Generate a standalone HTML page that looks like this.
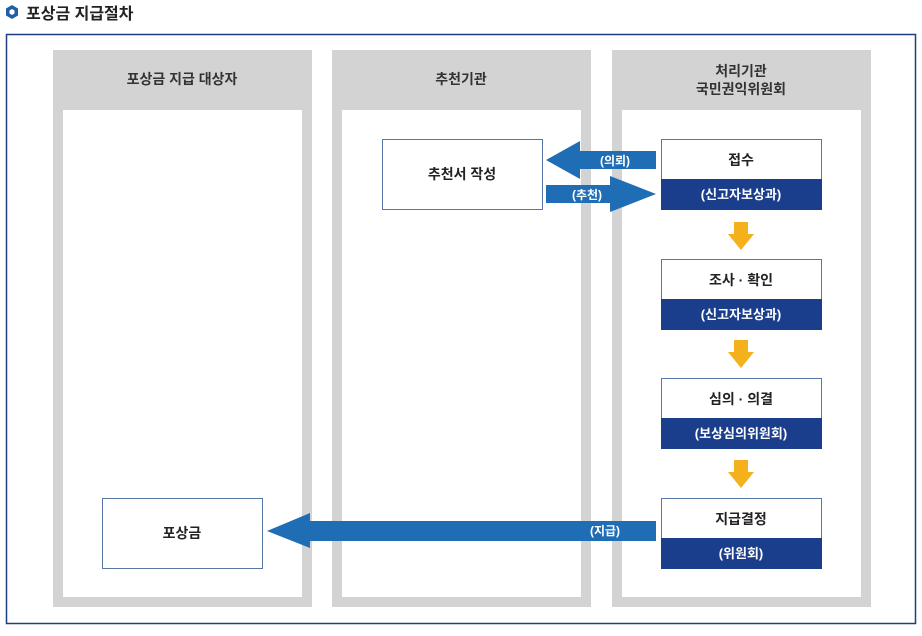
<!DOCTYPE html>
<html><head><meta charset="utf-8"><style>
body{margin:0;background:#fff;width:922px;height:631px;overflow:hidden}
svg text{font-family:"Liberation Sans","Noto Sans CJK KR",sans-serif}
</style></head><body>
<svg width="922" height="631" viewBox="0 0 922 631" xmlns="http://www.w3.org/2000/svg">
<polygon points="12,5 18,8.5 18,15.5 12,19 6,15.5 6,8.5" fill="#1f5fa8"/>
<polygon points="12,9 14.5,10.5 14.5,13.5 12,15 9.5,13.5 9.5,10.5" fill="#fff"/>
<text x="26" y="19" font-size="16" font-weight="bold" fill="#222">포상금 지급절차</text>
<rect x="6.5" y="34.5" width="909" height="589" fill="#fff" stroke="#1e3f7f" stroke-width="1.5"/>
<g fill="#d3d3d3">
<rect x="53" y="50" width="259" height="557"/>
<rect x="332" y="50" width="259" height="557"/>
<rect x="612" y="50" width="259" height="557"/>
</g>
<g fill="#fff">
<rect x="63" y="110" width="239" height="487"/>
<rect x="342" y="110" width="239" height="487"/>
<rect x="622" y="110" width="239" height="487"/>
</g>
<g font-size="14" font-weight="bold" fill="#333" text-anchor="middle">
<text x="182" y="84">포상금 지급 대상자</text>
<text x="461" y="84">추천기관</text>
<text x="741" y="76">처리기관</text>
<text x="741" y="94">국민권익위원회</text>
</g>
<!-- boxes -->
<g stroke="#5577aa" stroke-width="1" fill="#fff">
<rect x="382.5" y="139.5" width="160" height="70"/>
<rect x="102.5" y="498.5" width="160" height="70"/>
<rect x="661.5" y="139.5" width="160" height="70"/>
<rect x="661.5" y="259.5" width="160" height="70"/>
<rect x="661.5" y="378.5" width="160" height="70"/>
<rect x="661.5" y="498.5" width="160" height="70"/>
</g>
<g fill="#1a3d8c">
<rect x="661" y="179" width="161" height="31"/>
<rect x="661" y="299" width="161" height="31"/>
<rect x="661" y="418" width="161" height="31"/>
<rect x="661" y="538" width="161" height="31"/>
</g>
<g font-size="14" font-weight="bold" fill="#222" text-anchor="middle">
<text x="462" y="179">추천서 작성</text>
<text x="182" y="538">포상금</text>
<text x="741" y="165">접수</text>
<text x="741" y="285">조사 · 확인</text>
<text x="741" y="404">심의 · 의결</text>
<text x="741" y="524">지급결정</text>
</g>
<g font-size="13" font-weight="bold" fill="#fff" text-anchor="middle">
<text x="741" y="199">(신고자보상과)</text>
<text x="741" y="319">(신고자보상과)</text>
<text x="741" y="438">(보상심의위원회)</text>
<text x="741" y="558">(위원회)</text>
</g>
<!-- blue arrows -->
<g fill="#1f6db5">
<polygon points="656,151 580,151 580,141 546,160 580,179 580,169 656,169"/>
<polygon points="546,185 610,185 610,176 656,194 610,212 610,203 546,203"/>
<polygon points="656,521 310,521 310,513 267,531 310,548 310,541 656,541"/>
</g>
<g font-size="12" font-weight="bold" fill="#fff" text-anchor="middle">
<text x="615" y="165">(의뢰)</text>
<text x="587" y="199">(추천)</text>
<text x="605" y="535">(지급)</text>
</g>
<!-- orange arrows -->
<g fill="#f5b11c">
<polygon points="734,222 748,222 748,234 754,234 741,250 728,234 734,234"/>
<polygon points="734,340 748,340 748,352 754,352 741,368 728,352 734,352"/>
<polygon points="734,460 748,460 748,472 754,472 741,488 728,472 734,472"/>
</g>
</svg>
</body></html>
